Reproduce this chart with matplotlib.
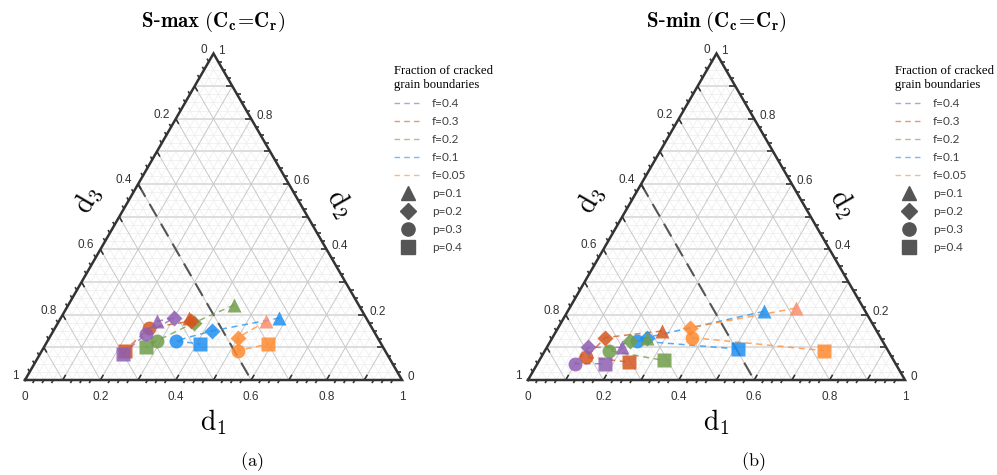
import matplotlib.pyplot as plt
import numpy as np
from matplotlib.lines import Line2D
from matplotlib.collections import LineCollection

plt.rcParams['mathtext.fontset'] = 'cm'

# crack fraction series and their colours (marker order: p=0.1, 0.2, 0.3, 0.4)
fractions = ['f=0.4', 'f=0.3', 'f=0.2', 'f=0.1', 'f=0.05']
porosity = ['p=0.1', 'p=0.2', 'p=0.3', 'p=0.4']
colors = ['#8d5fb3', '#d4561f', '#6f9e4a', '#1f8ff0', '#ff8a30']
markers = ['^', 'D', 'o', 's']

# S-max: d1 and d2 of each point (d3 = 1 - d1 - d2)
smax_d1 = [[0.26, 0.30, 0.25, 0.22],
           [0.34, 0.35, 0.25, 0.22],
           [0.44, 0.36, 0.29, 0.27],
           [0.58, 0.42, 0.34, 0.41],
           [0.55, 0.50, 0.52, 0.59]]
smax_d2 = [[0.18, 0.19, 0.14, 0.08],
           [0.19, 0.18, 0.16, 0.09],
           [0.23, 0.175, 0.12, 0.10],
           [0.19, 0.15, 0.12, 0.11],
           [0.18, 0.13, 0.09, 0.11]]

# S-min
smin_d1 = [[0.20, 0.11, 0.10, 0.18],
           [0.28, 0.14, 0.12, 0.24],
           [0.25, 0.21, 0.17, 0.33],
           [0.52, 0.25, 0.23, 0.51],
           [0.60, 0.35, 0.37, 0.74]]
smin_d2 = [[0.10, 0.10, 0.05, 0.05],
           [0.15, 0.13, 0.07, 0.055],
           [0.13, 0.12, 0.09, 0.06],
           [0.21, 0.13, 0.12, 0.095],
           [0.22, 0.16, 0.13, 0.09]]

cut_d3 = 0.4          # dashed boundary line, d3 = const
tick_labels = [0, 0.2, 0.4, 0.6, 0.8, 1]

S = np.sqrt(3) / 2
PX = 377.0            # pixels per unit triangle side

fig = plt.figure(figsize=(9.97, 4.75), dpi=100)


def tern(d1, d2):
    d1 = np.asarray(d1, float)
    d2 = np.asarray(d2, float)
    return d1 + d2 / 2, d2 * S


def pt(d1, d2):
    x, y = tern(d1, d2)
    return (float(x), float(y))


def lbl(v):
    return '0' if v == 0 else ('1' if v == 1 else f'{v:.1f}')


def panel(left_px, width_px, title, d1s, d2s, caption, leg_x):
    ax = fig.add_axes([left_px / 997, 0, width_px / 997, 1])
    ax.set_xlim(-25 / PX, (width_px - 25) / PX)
    ax.set_ylim(-95 / PX, 380 / PX)
    ax.axis('off')

    # background grid
    fine = [v for v in np.arange(0.025, 0.99, 0.025) if abs(v * 10 - round(v * 10)) > 1e-6]
    coarse = np.arange(0.1, 0.95, 0.1)
    seg_fine = []
    for v in fine:
        seg_fine += [[pt(0, v), pt(1 - v, v)], [pt(v, 0), pt(v, 1 - v)],
                     [pt(0, 1 - v), pt(1 - v, 0)]]
    seg_h = [[pt(0, v), pt(1 - v, v)] for v in coarse]
    seg_d = []
    for v in coarse:
        seg_d += [[pt(v, 0), pt(v, 1 - v)], [pt(0, 1 - v), pt(1 - v, 0)]]
    ax.add_collection(LineCollection(seg_fine, colors='#ededed', linewidths=0.5, zorder=0))
    ax.add_collection(LineCollection(seg_h, colors='#dedede', linewidths=1.4, zorder=0.5))
    ax.add_collection(LineCollection(seg_d, colors='#c8c8c8', linewidths=0.7, zorder=0.6))

    # triangle outline
    ox, oy = tern([0, 1, 0, 0], [0, 0, 1, 0])
    ax.plot(ox, oy, color='#333333', lw=1.8, solid_joinstyle='miter', zorder=4)

    # ticks: long ones inward every 0.1, short ones outward every 0.025
    L, l = 6 / PX, 3.5 / PX
    ticks = []
    for v in coarse:
        for p, d in [(pt(v, 0), (0.5, S)), (pt(1 - v, v), (-1, 0)), (pt(0, 1 - v), (0.5, -S))]:
            ticks.append([p, (p[0] + L * d[0], p[1] + L * d[1])])
    for v in fine:
        for p, d in [(pt(v, 0), (-0.5, -S)), (pt(1 - v, v), (1, 0)), (pt(0, 1 - v), (-0.5, S))]:
            ticks.append([p, (p[0] + l * d[0], p[1] + l * d[1])])
    ax.add_collection(LineCollection(ticks, colors='#333333', linewidths=1.2, zorder=4))

    tk = dict(fontsize=8.5, color='#333333', family='Liberation Sans', textcoords='offset pixels')
    for v in tick_labels:
        ax.annotate(lbl(v), pt(v, 0), xytext=(0, -17), ha='center', va='center', **tk)
        ax.annotate(lbl(v), pt(1 - v, v), xytext=(5, 3), ha='left', va='center', **tk)
        ax.annotate(lbl(v), pt(0, 1 - v), xytext=(-6, 4), ha='right', va='center', **tk)

    # d3 = const boundary
    cx, cy = tern([0, 1 - cut_d3], [1 - cut_d3, 0])
    ax.plot(cx, cy, color='#555555', lw=1.5, ls=(0, (7, 4)), zorder=1)

    # series: dashed connectors then markers
    for i in [4, 2, 3, 1, 0]:
        x, y = tern(d1s[i], d2s[i])
        ax.plot(x, y, ls=(0, (4, 3)), lw=1.1, color=colors[i], alpha=0.75, zorder=2 + i * 0.01)
        for j, m in enumerate(markers):
            fc = '#fa8e6e' if (i == 4 and j == 0) else colors[i]
            ax.plot(x[j], y[j], marker=m, ms=10 if m != 'D' else 8.5, color=fc,
                    mec='none', alpha=0.85, ls='none', zorder=3 + (4 - i) * 0.01)

    # axis names, title, caption
    ax.text(0.5, -0.111, r'$\mathrm{d}_1$', fontsize=20, ha='center', va='center')
    ax.text(0.167, 0.477, r'$\mathrm{d}_3$', fontsize=20, ha='center', va='center', rotation=60)
    ax.text(0.836, 0.469, r'$\mathrm{d}_2$', fontsize=20, ha='center', va='center', rotation=-60)
    ax.text(0.5, 0.95, title, fontsize=15, ha='center', va='center')
    ax.text(caption[1], -0.2175, caption[0], fontsize=13, ha='center', va='center')

    handles = [Line2D([], [], ls=(0, (4, 3)), lw=1, color=c, alpha=0.6) for c in colors]
    handles += [Line2D([], [], ls='none', marker=m, ms=9.5 if m != 'D' else 8, color='#555555')
                for m in markers]
    leg = ax.legend(handles, fractions + porosity, loc='upper left',
                    bbox_to_anchor=(leg_x, 0.85), bbox_transform=ax.transData,
                    frameon=False, borderpad=0, handlelength=2.3, handletextpad=0.9,
                    labelspacing=0.59, alignment='left',
                    title='Fraction of cracked\ngrain boundaries',
                    title_fontproperties={'family': 'Liberation Serif', 'size': 9.2},
                    prop={'family': 'Lato', 'size': 8.5})
    for t in leg.get_texts():
        t.set_color('#404040')
    return ax


panel(0, 500, r'$\mathbf{S}$-$\mathbf{max\ (C_c\!=\!C_r)}$', smax_d1, smax_d2,
      (r'$\mathrm{(a)}$', 0.602), 0.963)
panel(503, 494, r'$\mathbf{S}$-$\mathbf{min\ (C_c\!=\!C_r)}$', smin_d1, smin_d2,
      (r'$\mathrm{(b)}$', 0.597), 0.958)

fig.savefig('out.png', dpi=100)
